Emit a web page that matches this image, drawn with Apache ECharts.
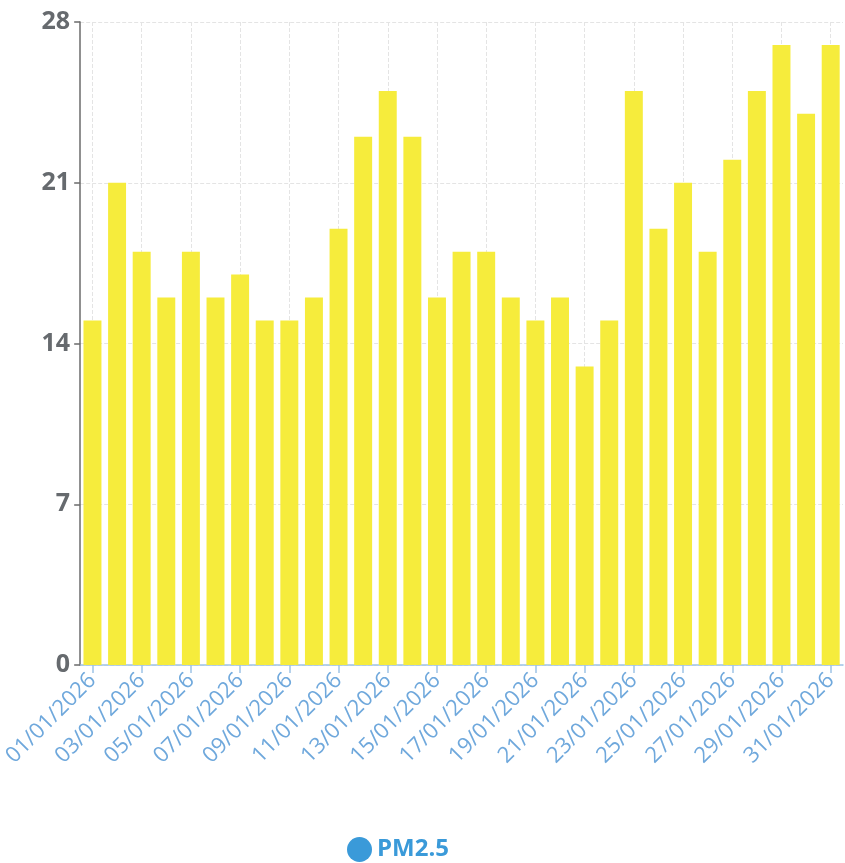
<!DOCTYPE html>
<html><head><meta charset="utf-8">
<script src="https://cdn.jsdelivr.net/npm/echarts@6/dist/echarts.min.js"></script>
<style>html,body{margin:0;padding:0;background:#fff}#c{width:845px;height:863px}</style>
</head><body><div id="c"></div>
<script>
const categories = ["01/01/2026","02/01/2026","03/01/2026","04/01/2026","05/01/2026","06/01/2026","07/01/2026","08/01/2026","09/01/2026","10/01/2026","11/01/2026","12/01/2026","13/01/2026","14/01/2026","15/01/2026","16/01/2026","17/01/2026","18/01/2026","19/01/2026","20/01/2026","21/01/2026","22/01/2026","23/01/2026","24/01/2026","25/01/2026","26/01/2026","27/01/2026","28/01/2026","29/01/2026","30/01/2026","31/01/2026"];
const pm25 = [15,21,18,16,18,16,17,15,15,16,19,23,25,23,16,18,18,16,15,16,13,15,25,19,21,18,22,25,27,24,27];
const yTicks = {min:0, max:28, interval:7};

const chart = echarts.init(document.getElementById('c'));
chart.setOption({
  animation:false,
  grid:{left:80,right:2,top:22,bottom:198,containLabel:false},
  legend:{
    data:[{name:'PM2.5',icon:'circle',itemStyle:{color:'#3a9ad9'}}],
    left:342, top:832, itemWidth:25, itemHeight:25, itemGap:9,
    textStyle:{color:'#3a9ad9',fontSize:24,fontWeight:'bold',fontFamily:'Open Sans'}
  },
  xAxis:{
    type:'category', data:categories,
    axisLine:{lineStyle:{color:'#9fc3e6',width:1.5}},
    axisTick:{show:true,interval:1,alignWithLabel:true,length:8,lineStyle:{color:'#9fc3e6',width:1.5}},
    axisLabel:{interval:1,rotate:45,color:'#6fa8dc',fontSize:22,fontFamily:'Open Sans',margin:12},
    splitLine:{show:true,interval:1,alignWithLabel:true,lineStyle:{color:'#e4e4e4',type:'dashed'}}
  },
  yAxis:{
    type:'value', min:yTicks.min, max:yTicks.max, interval:yTicks.interval,
    axisLine:{show:true,lineStyle:{color:'#6b6b6b',width:1.5}},
    axisTick:{show:true,length:6,lineStyle:{color:'#6b6b6b',width:1.5}},
    axisLabel:{color:'#666a6e',fontSize:25,fontWeight:'bold',fontFamily:'Open Sans',margin:10},
    splitLine:{show:true,lineStyle:{color:'#e4e4e4',type:'dashed'}}
  },
  series:[{
    name:'PM2.5', type:'bar', data:pm25, barCategoryGap:'27%',
    itemStyle:{color:'#f6ec3c'}
  }]
});
</script></body></html>
